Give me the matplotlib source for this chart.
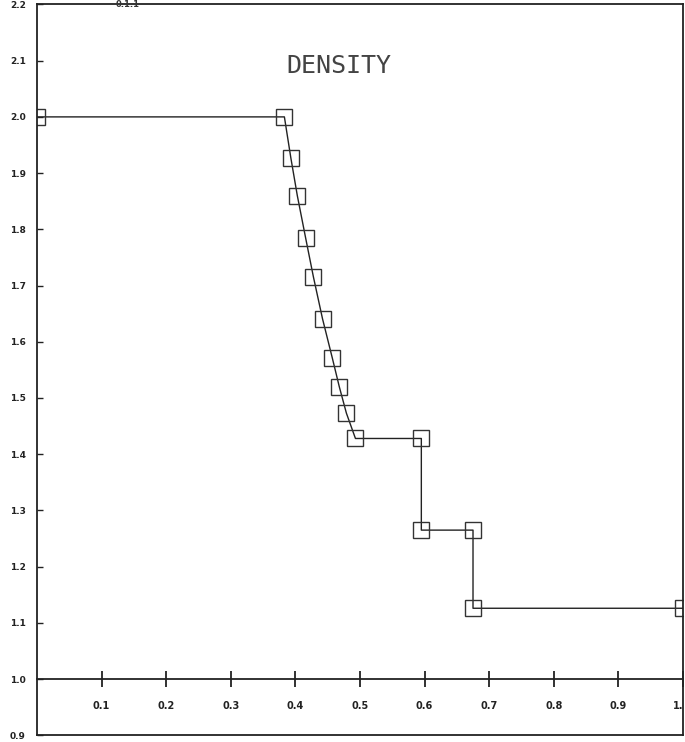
import numpy as np
import matplotlib
matplotlib.use("Agg")
import matplotlib.pyplot as plt

# 数据点
x_pos = [0.0, 0.383, 0.393, 0.403, 0.416, 0.428, 0.442, 0.457, 0.468, 0.479, 0.493,
         0.595, 0.595, 0.675, 0.675, 1.0]
density = [2.0, 2.0, 1.927, 1.860, 1.784, 1.715, 1.641, 1.572, 1.520, 1.473, 1.428,
           1.428, 1.265, 1.265, 1.126, 1.126]

y_ticks = [0.9, 1.0, 1.1, 1.2, 1.3, 1.4, 1.5, 1.6, 1.7, 1.8, 1.9, 2.0, 2.1, 2.2]
x_ticks = [0.1, 0.2, 0.3, 0.4, 0.5, 0.6, 0.7, 0.8, 0.9, 1.0]
x_labels = ["0.1", "0.2", "0.3", "0.4", "0.5", "0.6", "0.7", "0.8", "0.9", "1."]

fig = plt.figure(figsize=(6.85, 7.42), dpi=100)
ax = fig.add_axes([0.054, 0.009, 0.943, 0.985])
ax.set_xlim(0, 1.0)
ax.set_ylim(0.9, 2.2)

# 曲线和方块标记
ax.plot(x_pos, density, color="#222222", lw=1.0, marker="s", markersize=11.5,
        markerfacecolor="none", markeredgecolor="#333333", markeredgewidth=1.0)

for s in ax.spines.values():
    s.set_linewidth(1.3)
    s.set_color("#222222")

# y 轴
ax.set_yticks(y_ticks)
ax.set_yticklabels([f"{v:.1f}" for v in y_ticks])
ax.tick_params(axis="y", direction="in", length=4, width=1, pad=8,
               labelsize=6.5, colors="#222222")
for lab in ax.get_yticklabels():
    lab.set_fontweight("bold")
ax.set_xticks([])

# y=1.0 处的 x 轴
pos = (1.0 - 0.9) / (2.2 - 0.9)
sec = ax.secondary_xaxis(pos)
sec.set_xticks(x_ticks)
sec.set_xticklabels(x_labels)
sec.spines["bottom"].set_linewidth(1.3)
sec.spines["bottom"].set_color("#222222")
sec.tick_params(direction="inout", length=12, width=1.3, pad=10,
                labelsize=7, colors="#222222")
for lab in sec.get_xticklabels():
    lab.set_fontweight("bold")
sec.get_xticklabels()[-1].set_horizontalalignment("right")

# 标题
ax.text(0.468, 2.09, "DENSITY", family="DejaVu Sans Mono", fontsize=18,
        color="#444444", ha="center", va="center")
ax.text(0.14, 2.2, "0.1.1", fontsize=6, fontweight="bold", color="#333333",
        ha="center", va="center", clip_on=False)

fig.savefig("out.png", dpi=100, facecolor="white")
